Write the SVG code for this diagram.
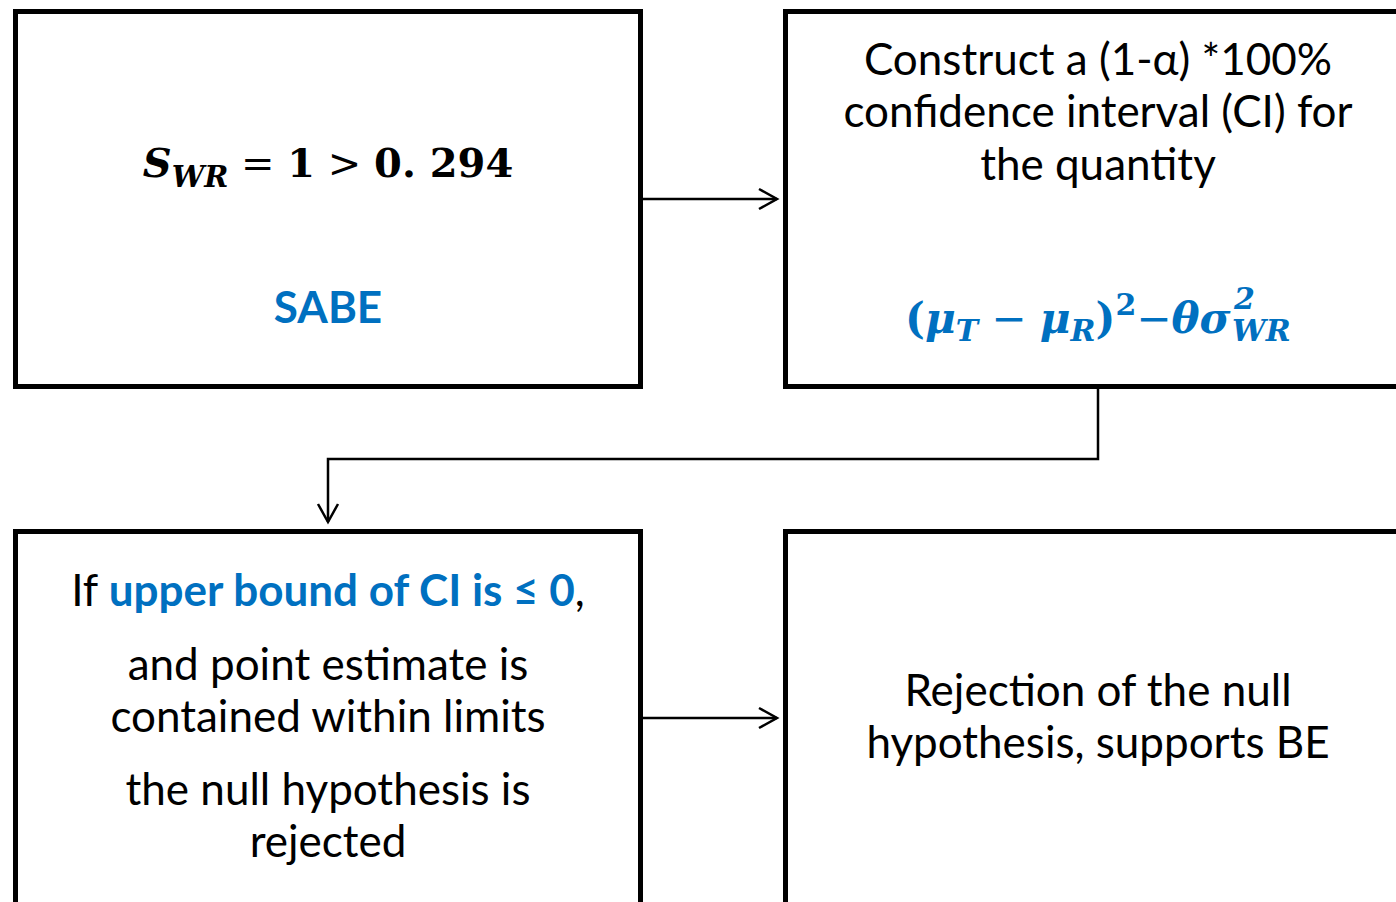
<svg xmlns="http://www.w3.org/2000/svg" width="1396" height="902" viewBox="0 0 1396 902">
<style>
.box{fill:#fff;stroke:#000;stroke-width:5}
.t{font-family:Lato,"Liberation Sans",sans-serif;font-size:44px;fill:#000;text-anchor:middle}
.b{fill:#0070C0;font-weight:bold}
.m{font-family:"DejaVu Serif","Liberation Serif",serif;font-weight:bold;font-style:italic;text-anchor:middle}
.s{text-anchor:start}
.op{font-weight:normal;font-style:normal}
.c{fill:none;stroke:#000;stroke-width:2.5}
</style>
<defs>
<marker id="arr" markerWidth="24" markerHeight="24" refX="20" refY="12" orient="auto" markerUnits="userSpaceOnUse">
<path d="M2,2 L20,12 L2,22" fill="none" stroke="#000" stroke-width="2.5"/>
</marker>
</defs>
<g id="n1">
<rect class="box" x="15.5" y="11.5" width="625" height="375"/>
<text class="m" x="328" y="177" font-size="40">S<tspan font-size="29" dy="10">WR</tspan><tspan dy="-10" class="op"> = </tspan><tspan font-style="normal">1</tspan><tspan class="op"> &gt; </tspan><tspan font-style="normal">0. 294</tspan></text>
<text class="t b" x="328" y="323">SABE</text>
</g>
<g id="n2">
<rect class="box" x="785.5" y="11.5" width="640" height="375"/>
<text class="t" x="1098" y="75">Construct a (1-α) *100%</text>
<text class="t" x="1098" y="127">confidence interval (CI) for</text>
<text class="t" x="1098" y="180">the quantity</text>
<text class="m s" x="905" y="333" font-size="42" fill="#0070C0"><tspan font-style="normal">(</tspan>μ<tspan font-size="30" dy="8">T</tspan><tspan dy="-8" class="op"> − </tspan>μ<tspan font-size="30" dy="8">R</tspan><tspan dy="-8" font-style="normal">)</tspan><tspan font-size="30" dy="-18" font-style="normal">2</tspan><tspan dy="18" class="op">−</tspan>θσ</text>
<text class="m s" x="1234" y="309" font-size="30" fill="#0070C0" font-style="normal">2</text>
<text class="m s" x="1232" y="341" font-size="30" fill="#0070C0">WR</text>
</g>
<g id="n3">
<rect class="box" x="15.5" y="531.5" width="625" height="420"/>
<text class="t" x="328" y="606">If <tspan class="b">upper bound of CI is ≤ 0</tspan>,</text>
<text class="t" x="328" y="680">and point estimate is</text>
<text class="t" x="328" y="732">contained within limits</text>
<text class="t" x="328" y="805">the null hypothesis is</text>
<text class="t" x="328" y="857">rejected</text>
</g>
<g id="n4">
<rect class="box" x="785.5" y="531.5" width="640" height="420"/>
<text class="t" x="1098" y="706">Rejection of the null</text>
<text class="t" x="1098" y="758">hypothesis, supports BE</text>
</g>
<g id="connectors">
<line class="c" x1="643" y1="199" x2="777" y2="199" marker-end="url(#arr)"/>
<polyline class="c" points="1098,389 1098,459 328,459 328,522" marker-end="url(#arr)"/>
<line class="c" x1="643" y1="718" x2="777" y2="718" marker-end="url(#arr)"/>
</g>
</svg>
